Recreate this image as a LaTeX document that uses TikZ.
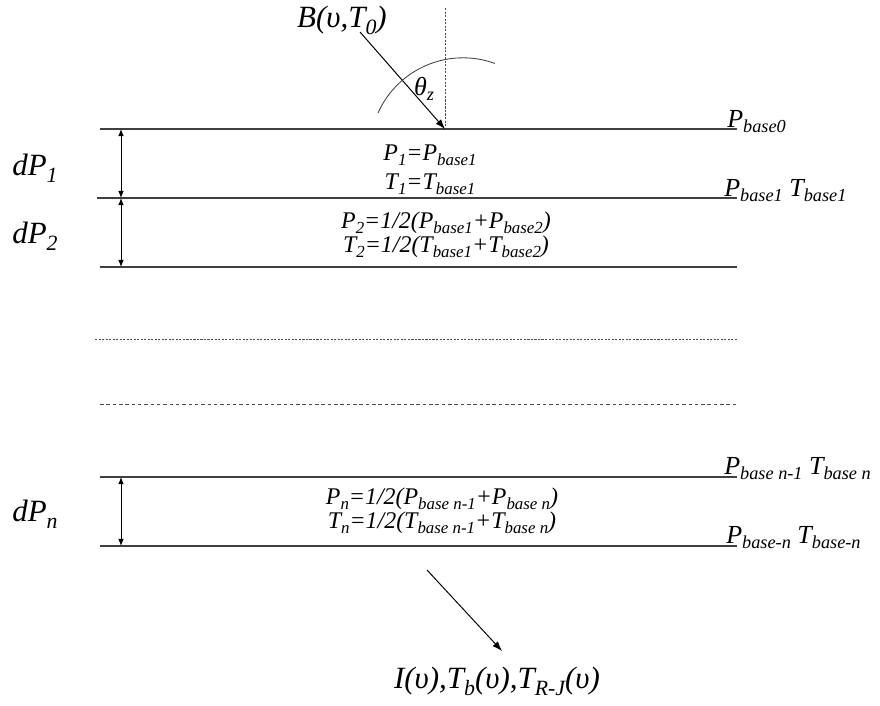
\documentclass[tikz,border=0pt]{standalone}
\usepackage{fontspec}
\setmainfont{Liberation Serif}
\usepackage{tikz}
\usetikzlibrary{arrows.meta}
\newcommand{\subsz}{12}
\newcommand{\lsub}[1]{\raisebox{-0.5ex}{\fontsize{\subsz}{\subsz}\selectfont #1}}

\begin{document}
\begin{tikzpicture}[
    x=0.025cm, y=0.025cm,
    txt/.style={
        inner sep=0pt,
        font=\fontsize{17}{20}\selectfont\itshape
    },
    edge txt/.style={
        inner sep=0pt,
        font=\fontsize{18.5}{22}\selectfont\itshape\renewcommand{\subsz}{13}
    },
    big txt/.style={
        inner sep=0pt,
        font=\fontsize{22}{26}\selectfont\itshape\renewcommand{\subsz}{15.5}
    },
    layer/.style={
        line width=0.9pt,
        draw=black!75
    },
    dotline/.style={
        line width=0.6pt,
        draw=black!70,
        dash pattern=on 1.5pt off 1pt
    },
    dashline/.style={
        line width=0.6pt,
        draw=black!70,
        dash pattern=on 2.5pt off 2pt
    },
    span/.style={
        {Latex[length=5pt,width=4pt]}-{Latex[length=5pt,width=4pt]},
        line width=0.7pt
    },
    ray/.style={
        -{Latex[length=7pt,width=5pt]},
        line width=0.7pt
    }
]
\useasboundingbox (0,0) rectangle (880,-705);
% layer boundaries
\coordinate (L0w) at (100,-129);
\coordinate (L0e) at (737,-129);
\coordinate (L1w) at (97,-198);
\coordinate (L1e) at (737,-198);
\coordinate (L2w) at (100,-267);
\coordinate (L2e) at (737,-267);
\coordinate (D1w) at (95,-339);
\coordinate (D1e) at (738,-339);
\coordinate (D2w) at (100,-404);
\coordinate (D2e) at (738,-404);
\coordinate (Nmw) at (100,-477);
\coordinate (Nme) at (737,-477);
\coordinate (Nw) at (100,-546);
\coordinate (Ne) at (737,-546);
\draw[layer] (L0w) -- (L0e);
\draw[layer] (L1w) -- (L1e);
\draw[layer] (L2w) -- (L2e);
\draw[dotline] (D1w) -- (D1e);
\draw[dashline] (D2w) -- (D2e);
\draw[layer] (Nmw) -- (Nme);
\draw[layer] (Nw) -- (Ne);

% thickness arrows
\coordinate (a0) at (121,-129);
\coordinate (a1) at (121,-198);
\coordinate (a2) at (121,-267);
\coordinate (am) at (121,-477);
\coordinate (an) at (121,-546);
\draw[span] (a0) -- (a1);
\draw[span] (a1) -- (a2);
\draw[span] (am) -- (an);
\node[big txt] (dP1) at (35,-168) {dP\lsub{1}};
\node[big txt] (dP2) at (35,-236) {dP\lsub{2}};
\node[big txt] (dPn) at (35,-514) {dP\lsub{n}};

% incoming radiance
\node[big txt, anchor=base] (B) at (342,-27) {B(υ,T\lsub{0})};
\coordinate (Bs) at (360,-32);
\coordinate (hit) at (445,-129);
\coordinate (zen) at (445,-8);
\draw[dotline] (zen) -- (hit);
\draw[ray] (Bs) -- (hit);
\draw[line width=0.6pt, black!75] (378,-113) arc[start angle=156, end angle=70, radius=2.325cm];
\node[edge txt, anchor=base] (th) at (424,-95) {θ\lsub{z}};

% layer values
\node[txt, anchor=base] (P1) at (430,-160) {P\lsub{1}=P\lsub{base1}};
\node[txt, anchor=base] (T1) at (430,-189) {T\lsub{1}=T\lsub{base1}};
\node[txt, anchor=base] (P2) at (446,-228) {P\lsub{2}=1/2(P\lsub{base1}+P\lsub{base2})};
\node[txt, anchor=base] (T2) at (446,-252) {T\lsub{2}=1/2(T\lsub{base1}+T\lsub{base2})};
\node[txt, anchor=base] (Pn) at (442,-504) {P\lsub{n}=1/2(P\lsub{base n-1}+P\lsub{base n})};
\node[txt, anchor=base] (Tn) at (442,-528) {T\lsub{n}=1/2(T\lsub{base n-1}+T\lsub{base n})};

% boundary labels
\node[edge txt, anchor=base west] (Pb0) at (727,-127) {P\lsub{base0}};
\node[edge txt, anchor=base west] (Pb1) at (724,-196) {P\lsub{base1} T\lsub{base1}};
\node[edge txt, anchor=base west] (Pbm) at (724,-474) {P\lsub{base n-1} T\lsub{base n}};
\node[edge txt, anchor=base west] (Pbn) at (726,-543) {P\lsub{base-n} T\lsub{base-n}};

% outgoing radiation
\coordinate (Os) at (427,-570);
\coordinate (Oe) at (502,-651);
\draw[ray] (Os) -- (Oe);
\node[big txt, anchor=base] (out) at (497,-688) {I(υ),T\lsub{b}(υ),T\lsub{R-J}(υ)};
\end{tikzpicture}
\end{document}
